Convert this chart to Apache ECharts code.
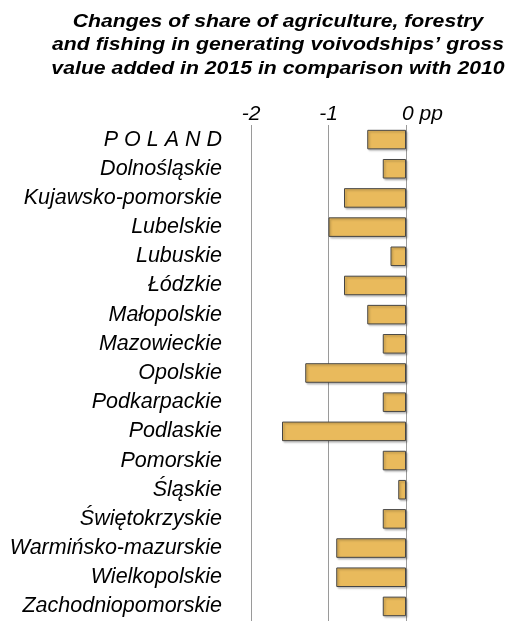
<!DOCTYPE html>
<html>
<head>
<meta charset="utf-8">
<script src="https://cdn.jsdelivr.net/npm/echarts@6/dist/echarts.min.js"></script>
<style>
  html, body { margin: 0; padding: 0; background: #fff; }
  #main { width: 513px; height: 621px; }
</style>
</head>
<body>
<div id="main"></div>
<script>
// voivodships, top to bottom
const regions = [
  'P O L A N D', 'Dolnośląskie', 'Kujawsko-pomorskie', 'Lubelskie', 'Lubuskie',
  'Łódzkie', 'Małopolskie', 'Mazowieckie', 'Opolskie', 'Podkarpackie',
  'Podlaskie', 'Pomorskie', 'Śląskie', 'Świętokrzyskie', 'Warmińsko-mazurskie',
  'Wielkopolskie', 'Zachodniopomorskie'
]
// change in share, percentage points
const shareChange = [
  -0.5, -0.3, -0.8, -1.0, -0.2,
  -0.8, -0.5, -0.3, -1.3, -0.3,
  -1.6, -0.3, -0.1, -0.3, -0.9,
  -0.9, -0.3
]
const titleLines = [
  'Changes of share of agriculture, forestry',
  'and fishing in generating voivodships\u2019 gross',
  'value added in 2015 in comparison with 2010'
]

const chart = echarts.init(document.getElementById('main'))
const font = 'Liberation Sans, Arial, sans-serif'

const option = {
  animation: false,
  graphic: [
    {
      type: 'text',
      x: 278,
      y: 10,
      scaleX: 1.18,
      style: {
        text: titleLines.join('\n'),
        textAlign: 'center',
        fontFamily: font,
        fontSize: 18,
        fontWeight: 'bold',
        fontStyle: 'italic',
        lineHeight: 23.5,
        fill: '#000'
      }
    }
  ],
  grid: {
    left: 251,
    right: 107,
    top: 125,
    bottom: -2
  },
  xAxis: {
    type: 'value',
    position: 'top',
    min: -2,
    max: 0,
    interval: 1,
    axisLine: { show: false },
    axisTick: { show: false },
    axisLabel: {
      margin: 0,
      color: '#000',
      fontFamily: font,
      fontSize: 21,
      fontStyle: 'italic',
      formatter: (v) => (v === 0 ? '{z|0 pp}' : String(v)),
      rich: {
        z: {
          fontFamily: font,
          fontSize: 21,
          fontStyle: 'italic',
          color: '#000',
          padding: [0, 0, 0, 33]
        }
      }
    },
    splitLine: { show: true, lineStyle: { color: '#9a9a9a', width: 1 } }
  },
  yAxis: {
    type: 'category',
    inverse: true,
    data: regions,
    axisLine: { show: false },
    axisTick: { show: false },
    axisLabel: {
      margin: 29,
      color: '#000',
      fontFamily: font,
      fontSize: 21.5,
      fontStyle: 'italic'
    }
  },
  series: [
    {
      type: 'bar',
      data: shareChange,
      barCategoryGap: '33%',
      itemStyle: {
        color: '#E9BA5C',
        borderColor: '#454545',
        borderWidth: 1,
        shadowColor: 'rgba(0,0,0,0.25)',
        shadowOffsetX: 1.5,
        shadowOffsetY: 1.5,
        shadowBlur: 2
      }
    }
  ]
}
option && chart.setOption(option)
</script>
</body>
</html>
